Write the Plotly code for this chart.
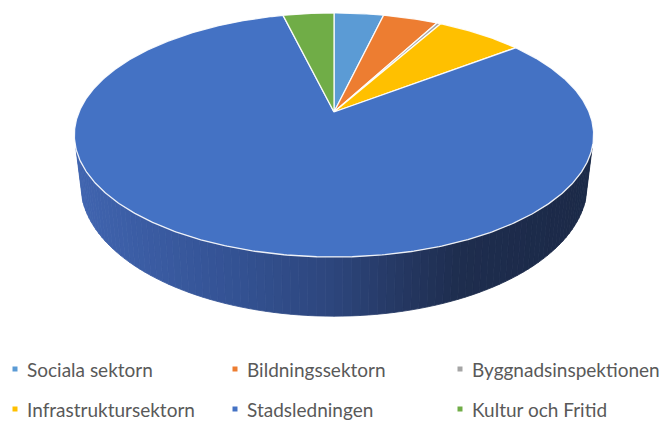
import math
import plotly.graph_objects as go

# ---- data ----
categories = ["Sociala sektorn", "Bildningssektorn", "Byggnadsinspektionen",
              "Infrastruktursektorn", "Stadsledningen", "Kultur och Fritid"]
values = [3.7, 4.1, 0.3, 6.5, 81.6, 3.8]
colors = ["#5B9BD5", "#ED7D31", "#A5A5A5", "#FFC000", "#4472C4", "#70AD47"]

# ---- 3D pie geometry (pixel space) ----
CX, CY = 334.0, 112.0     # apex of the pie
A = 255.0                 # horizontal radius
B = 117.7                 # vertical scale
C = -0.1885               # perspective factor
D = 48.0                  # depth of the side
BOT_SCALE = 0.975

def top_pt(theta):
    t = math.radians(theta)
    u, v = math.sin(t), -math.cos(t)
    w = 1 + C * v
    return CX + A * u / w, CY + B * v / w

def bot_pt(theta):
    t = math.radians(theta)
    v = -math.cos(t)
    w = 1 + C * v
    x, y = top_pt(theta)
    return CX + (x - CX) * BOT_SCALE, y + D / w

def lerp_color(x):
    stops = [(75, (64, 100, 175)), (240, (51, 81, 146)), (330, (45, 70, 125)),
             (400, (37, 56, 99)), (460, (30, 45, 78)), (600, (27, 41, 71))]
    if x <= stops[0][0]:
        c = stops[0][1]
    elif x >= stops[-1][0]:
        c = stops[-1][1]
    else:
        for (x0, c0), (x1, c1) in zip(stops, stops[1:]):
            if x0 <= x <= x1:
                f = (x - x0) / (x1 - x0)
                c = tuple(c0[i] + (c1[i] - c0[i]) * f for i in range(3))
                break
    return "rgb(%d,%d,%d)" % tuple(int(round(k)) for k in c)

fig = go.Figure()

# side of the pie (front half, all Stadsledningen)
TH_R, TH_L = 107.0, 253.0
N = 90
for i in range(N):
    t0 = TH_R + (TH_L - TH_R) * i / N
    t1 = TH_R + (TH_L - TH_R) * (i + 1) / N
    p0, p1 = top_pt(t0), top_pt(t1)
    q0, q1 = bot_pt(t0), bot_pt(t1)
    xs = [p0[0], p1[0], q1[0], q0[0], p0[0]]
    ys = [p0[1], p1[1], q1[1], q0[1], p0[1]]
    col = lerp_color((p0[0] + p1[0]) / 2)
    fig.add_trace(go.Scatter(x=xs, y=ys, mode="lines", fill="toself",
                             fillcolor=col, line=dict(color=col, width=0.8),
                             hoverinfo="skip", showlegend=False))

# top faces of slices
total = sum(values)
start = 0.0
for cat, val, col in zip(categories, values, colors):
    span = 360.0 * val / total
    steps = max(4, int(span * 2))
    xs, ys = [CX], [CY]
    for k in range(steps + 1):
        x, y = top_pt(start + span * k / steps)
        xs.append(x)
        ys.append(y)
    xs.append(CX)
    ys.append(CY)
    fig.add_trace(go.Scatter(x=xs, y=ys, mode="lines", fill="toself",
                             fillcolor=col, line=dict(color="rgba(255,255,255,0.9)", width=1.3),
                             name=cat, hoverinfo="name", showlegend=False))
    start += span

# ---- legend (manual) ----
leg_cols = [15, 235, 460]
leg_rows = [369, 409]
for i, (cat, col) in enumerate(zip(categories, colors)):
    lx = leg_cols[i % 3]
    ly = leg_rows[i // 3]
    fig.add_trace(go.Scatter(x=[lx], y=[ly], mode="markers",
                             marker=dict(symbol="square", size=5, color=col),
                             hoverinfo="skip", showlegend=False))
    fig.add_annotation(x=lx + 10, y=ly, text=cat, showarrow=False,
                       xanchor="left", yanchor="middle",
                       font=dict(family="Lato", size=19, color="#595959"))

# page body has an 8px margin: size the figure and ranges so pixels line up
OFF = 8
fig.update_layout(
    width=670 - OFF, height=421 - OFF,
    margin=dict(l=0, r=0, t=0, b=0),
    paper_bgcolor="white", plot_bgcolor="white",
    xaxis=dict(range=[OFF, 670], visible=False, fixedrange=True),
    yaxis=dict(range=[421, OFF], visible=False, fixedrange=True),
    showlegend=False,
)

fig.write_html("out.html")
